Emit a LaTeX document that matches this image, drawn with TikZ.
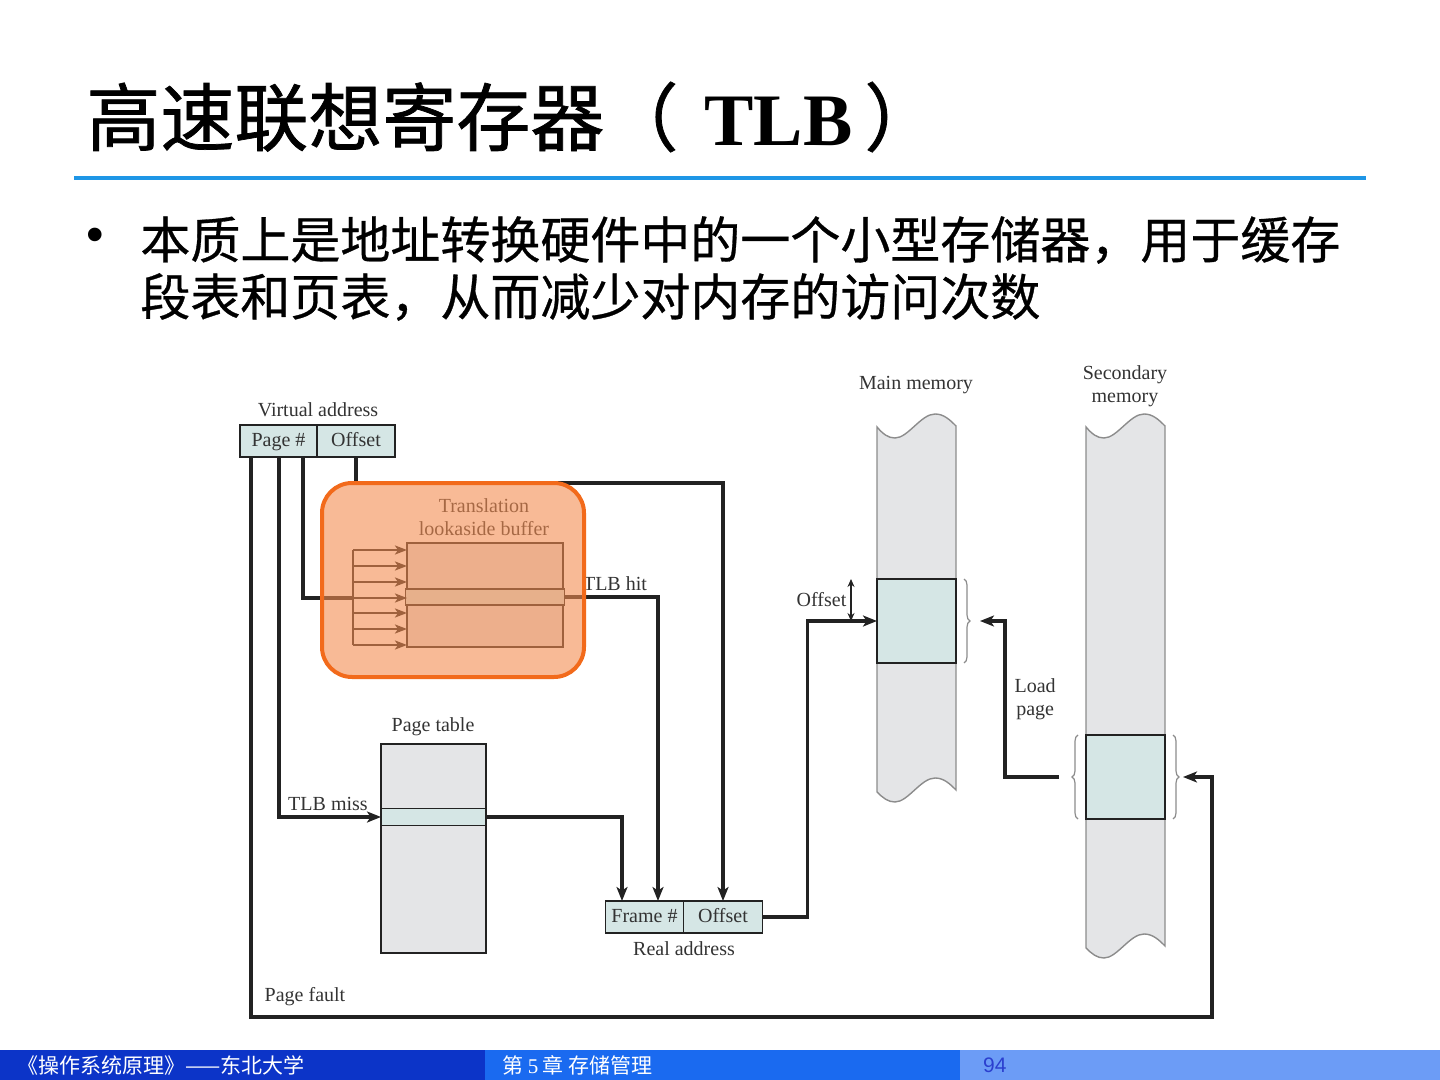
\documentclass[tikz,border=0pt]{standalone}
\usepackage{fontspec}
\setmainfont{Liberation Serif}
\newfontfamily\cjk[FakeBold=0.6]{Noto Sans CJK SC}
\newfontfamily\cjkfoot{Noto Sans CJK SC}
\newfontfamily\cjkhead[FakeBold=1]{Noto Sans CJK SC}
\newfontfamily\pgsans{Liberation Sans}
\usetikzlibrary{arrows.meta,positioning,calc,decorations.pathreplacing}
\definecolor{tlbink}{HTML}{222222}
\definecolor{tlbtext}{HTML}{333333}
\definecolor{tlbcell}{HTML}{D5E6E5}
\definecolor{tlbgray}{HTML}{E4E5E7}
\definecolor{tlbedge}{HTML}{8C8C8C}
\definecolor{tlborange}{HTML}{F26A1B}
\definecolor{tlbpeach}{HTML}{F38C50}
\definecolor{ruleblue}{HTML}{1E96E6}
\definecolor{footA}{HTML}{0C34C8}
\definecolor{footB}{HTML}{1A6AF0}
\definecolor{footC}{HTML}{6C9CF6}
\definecolor{footnum}{HTML}{2B3FCF}

\begin{document}
\begin{tikzpicture}[
  x=0.5pt, y=-0.5pt,
  cell/.style={draw=tlbink, line width=0.8pt, fill=tlbcell, inner sep=0pt, outer sep=0pt,
               minimum height=16pt, text height=7pt, text depth=2pt,
               font=\fontsize{10}{11}\selectfont, text=tlbtext},
  tabbox/.style={draw=tlbink, line width=0.8pt, fill=tlbgray, inner sep=0pt, outer sep=0pt},
  tabrow/.style={draw=tlbink, line width=0.8pt, fill=tlbcell, inner sep=0pt, outer sep=0pt},
  memcol/.style={draw=tlbedge, line width=0.7pt, fill=tlbgray},
  lbl/.style={font=\fontsize{10}{11.5}\selectfont, text=tlbtext, align=center, inner sep=1pt},
  wire/.style={tlbink, line width=1.6pt},
  arr/.style={-{Stealth[length=7pt,width=5.5pt,inset=1.8pt]}, tlbink, line width=1.6pt},
  fanline/.style={tlbink, line width=1.2pt},
  fanarr/.style={-{Stealth[length=6pt,width=4.5pt,inset=1.5pt]}, tlbink, line width=1.2pt},
  dblarr/.style={{Stealth[length=4pt,width=3.5pt]}-{Stealth[length=4pt,width=3.5pt]}, tlbink, line width=0.7pt},
  curly/.style={decorate, decoration={brace, amplitude=3pt}, tlbedge, line width=0.6pt},
  hilite/.style={draw=tlborange, line width=2pt, fill=tlbpeach, fill opacity=0.6, rounded corners=15pt},
]
\useasboundingbox (0,0) rectangle (1440,1080);

%% Titel und Text
\node[anchor=west, inner sep=0pt, font=\cjkhead\fontsize{37}{40}\selectfont] (title) at (86,117)
  {高速联想寄存器（\hspace{13pt}{\rmfamily\bfseries TLB}\hspace{6pt}）};
\draw[ruleblue, line width=1.6pt] (74,178) -- (1366,178);
\node[inner sep=0pt, font=\pgsans\fontsize{25}{28}\selectfont] (dot) at (95,240) {•};
\node[anchor=west, inner sep=0pt, font=\cjk\fontsize{25}{28}\selectfont] (line1) at (140,240)
  {本质上是地址转换硬件中的一个小型存储器，用于缓存};
\node[anchor=west, inner sep=0pt, font=\cjk\fontsize{25}{28}\selectfont] (line2) at (140,297)
  {段表和页表，从而减少对内存的访问次数};

%% Speicherspalten
\draw[memcol] (877,427) .. controls (883,434) and (888,438) .. (895,438)
  .. controls (908,438) and (921,414) .. (935,414) .. controls (944,414) and (950,420) .. (956,426)
  -- (956,790) .. controls (950,784) and (944,778) .. (935,778)
  .. controls (921,778) and (908,802) .. (895,802) .. controls (888,802) and (883,798) .. (877,792) -- cycle;
\draw[memcol] (1086,427) .. controls (1092,434) and (1097,438) .. (1104,438)
  .. controls (1117,438) and (1130,414) .. (1144,414) .. controls (1153,414) and (1159,420) .. (1165,426)
  -- (1165,946) .. controls (1159,940) and (1153,934) .. (1144,934)
  .. controls (1130,934) and (1117,958) .. (1104,958) .. controls (1097,958) and (1092,954) .. (1086,948) -- cycle;
\node[lbl] (mlbl) at (916,385) {Main memory};
\node[lbl] (slbl) at (1125,386) {Secondary\\memory};
\node[tabrow, minimum width=39.5pt, minimum height=42pt] (mblock) at (916.5,621) {};
\node[tabrow, minimum width=39.5pt, minimum height=42pt] (sblock) at (1125.5,777) {};
\draw[curly] ([xshift=4pt]mblock.north east) -- ([xshift=4pt]mblock.south east);
\draw[curly] ([xshift=4pt]sblock.north east) -- ([xshift=4pt]sblock.south east);
\draw[curly] ([xshift=-4pt]sblock.south west) -- ([xshift=-4pt]sblock.north west);
\draw[dblarr] ([xshift=-13pt]mblock.north west) -- ([xshift=-13pt]mblock.west)
  node[lbl, midway, left=1pt] (offlbl) {Offset};

%% Adressen
\node[cell, minimum width=38.5pt] (vpage) at (278.5,441) {Page \#};
\node[cell, minimum width=39pt, right=0pt of vpage] (voff) {Offset};
\node[lbl] (vlbl) at (318,410) {Virtual address};
\node[cell, minimum width=39pt] (rframe) at (644.5,917) {Frame \#};
\node[cell, minimum width=39.5pt, right=0pt of rframe] (roff) {Offset};
\node[lbl] (rlbl) at (684,949) {Real address};

%% TLB und Seitentabelle
\node[tabbox, minimum width=78pt, minimum height=52pt] (tlb) at (485,595) {};
\node[tabrow, minimum width=79.5pt, minimum height=8pt] (tlbrow) at (485,597) {};
\node[lbl] (tlblbl) at (484,517) {Translation\\lookaside buffer};
\node[tabbox, minimum width=52.5pt, minimum height=104.5pt] (ptab) at (433.5,848.5) {};
\node[tabrow, minimum width=52.5pt, minimum height=8.5pt] (ptrow) at (433.5,817) {};
\node[lbl] (ptlbl) at (433,727) {Page table};

\coordinate (fantop) at (353,550);
\coordinate (fanbot) at (353,645);
\draw[fanline] (fantop) -- (fanbot);
\foreach \fy in {550,566,582,598,613,629,645}
  \draw[fanarr] (353,\fy) -- (tlb.west |- 0,\fy);

%% Verbindungen
\coordinate (pfault) at (1212,1017);
\coordinate (stip) at ([xshift=9pt]sblock.east);
\coordinate (lstart) at ([xshift=-13.5pt]sblock.west);
\coordinate (mtip) at ([xshift=12pt]mblock.east);
\draw[arr] ($(vpage.south west)+(11,0)$) |- (pfault) |- (stip);
\node[lbl] (pflbl) at (305,997) {Page fault};
\draw[arr] ($(vpage.south west)+(39,0)$) |- node[lbl, above=1.5pt, pos=0.74] (misslbl) {TLB miss} (ptrow.west);
\draw[wire] ($(vpage.south west)+(63,0)$) |- (353,598);
\draw[arr] (voff.south) -- ++(0,26) -| (roff.north);
\draw[arr] (tlbrow.east) -| node[lbl, above=1.5pt, pos=0.27] (hitlbl) {TLB hit} ($(rframe.north)+(13.5,0)$);
\draw[arr] (ptrow.east) -| ($(rframe.north)+(-22.5,0)$);
\draw[arr] (roff.east) -- ++(45,0) |- (mblock.west);
\draw[arr] (lstart) -- ++(-54,0) |- node[lbl, right=3pt, pos=0.25] (loadlbl) {Load\\page} (mtip);

%% Hervorhebung
\draw[hilite] (322,483) rectangle (584,677);

%% Fusszeile
\fill[footA] (0,1050) rectangle (485,1080);
\fill[footB] (485,1050) rectangle (960,1080);
\fill[footC] (960,1050) rectangle (1440,1080);
\node[anchor=west, text=white, font=\cjkfoot\fontsize{10.5}{12}\selectfont] (foot1) at (10,1065) {《操作系统原理》——东北大学};
\node[anchor=west, text=white, font=\cjkfoot\fontsize{10.5}{12}\selectfont] (foot2) at (495,1065) {第 {\rmfamily 5} 章 存储管理};
\node[anchor=west, text=footnum, font=\pgsans\fontsize{10.5}{12}\selectfont] (foot3) at (976,1065) {94};
\end{tikzpicture}
\end{document}
